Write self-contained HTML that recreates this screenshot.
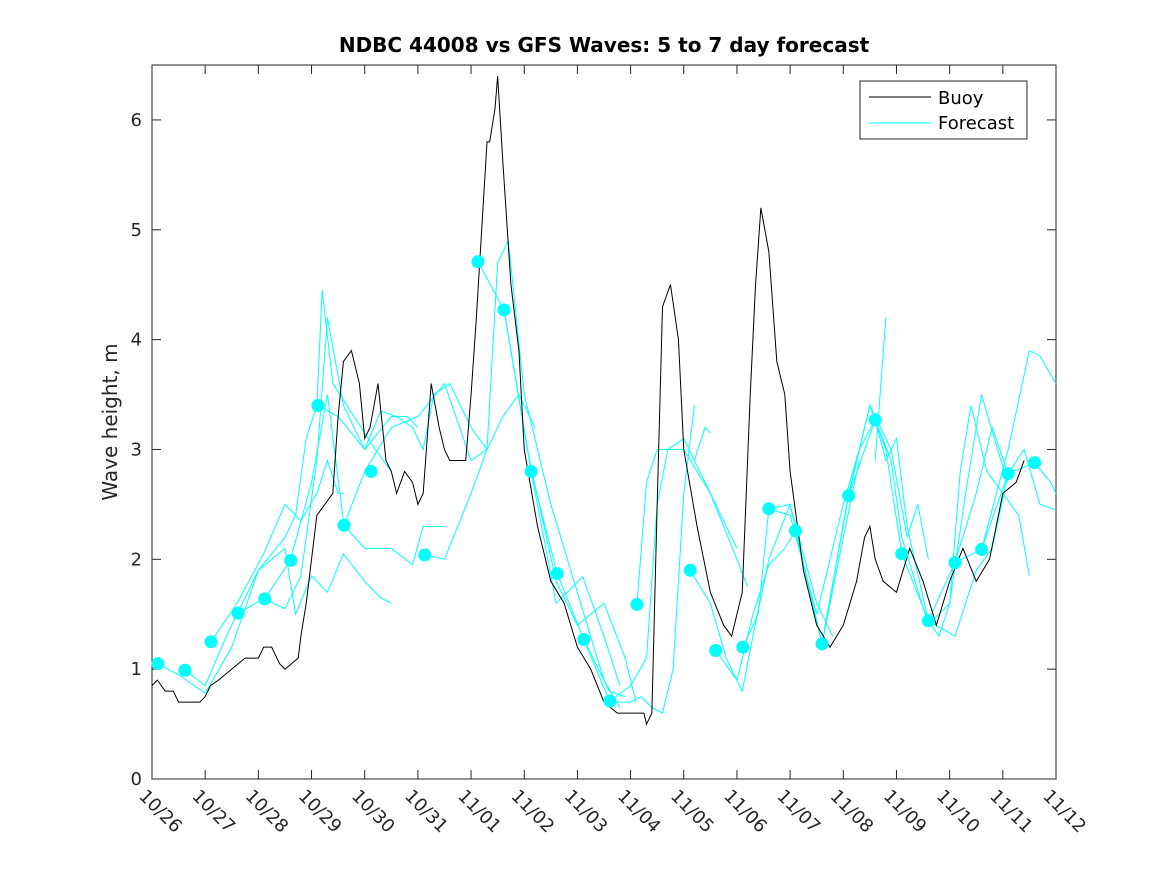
<!DOCTYPE html>
<html><head><meta charset="utf-8"><style>
body{margin:0;background:#fff}
svg{display:block;font-family:"DejaVu Sans","Liberation Sans",sans-serif}
</style></head><body>
<svg id="chart" width="1167" height="875">
<g id="g"></g>
</svg>
<script>
const xTickLabels=["10/26","10/27","10/28","10/29","10/30","10/31","11/01","11/02","11/03","11/04","11/05","11/06","11/07","11/08","11/09","11/10","11/11","11/12"];
const yTicks=[0,1,2,3,4,5,6];
const buoyT=[0,0.1,0.25,0.4,0.5,0.75,0.9,1.0,1.1,1.25,1.5,1.75,2.0,2.1,2.25,2.4,2.5,2.75,2.8,2.9,3.0,3.1,3.25,3.4,3.5,3.6,3.75,3.9,4.0,4.1,4.25,4.4,4.5,4.6,4.75,4.9,5.0,5.1,5.25,5.4,5.5,5.6,5.75,5.9,6.0,6.1,6.2,6.3,6.35,6.45,6.5,6.6,6.75,6.9,7.0,7.25,7.5,7.75,8.0,8.25,8.5,8.75,9.0,9.25,9.3,9.4,9.5,9.6,9.75,9.9,10.0,10.25,10.5,10.75,10.9,11.0,11.1,11.25,11.35,11.45,11.6,11.75,11.9,12.0,12.25,12.5,12.75,13.0,13.25,13.4,13.5,13.6,13.75,14.0,14.25,14.5,14.75,15.0,15.25,15.5,15.75,16.0,16.25,16.4];
const buoyV=[0.85,0.9,0.8,0.8,0.7,0.7,0.7,0.75,0.85,0.9,1.0,1.1,1.1,1.2,1.2,1.05,1.0,1.1,1.3,1.6,2.0,2.4,2.5,2.6,3.3,3.8,3.9,3.6,3.1,3.2,3.6,2.9,2.8,2.6,2.8,2.7,2.5,2.6,3.6,3.2,3.0,2.9,2.9,2.9,3.5,4.2,5.0,5.8,5.8,6.1,6.4,5.6,4.5,3.9,3.0,2.3,1.8,1.6,1.2,1.0,0.7,0.6,0.6,0.6,0.5,0.6,2.5,4.3,4.5,4.0,3.0,2.3,1.7,1.4,1.3,1.5,1.7,3.5,4.5,5.2,4.8,3.8,3.5,2.8,1.9,1.4,1.2,1.4,1.8,2.2,2.3,2.0,1.8,1.7,2.1,1.8,1.4,1.8,2.1,1.8,2.0,2.6,2.7,2.9];
const fcLines=[
[[0.11,1.05],[0.5,0.95],[1.0,0.78],[1.5,1.2],[2.0,1.9],[2.5,2.2],[2.7,2.4],[2.9,3.1],[3.1,3.4],[3.2,4.45],[3.4,3.6],[3.8,3.3],[4.2,3.0],[4.5,2.8]],
[[0.62,0.99],[1.0,0.85],[1.4,1.3],[2.0,1.9],[2.5,2.1],[2.7,1.5],[3.0,1.85],[3.3,1.7],[3.6,2.05],[4.0,1.8],[4.3,1.65],[4.5,1.6]],
[[1.11,1.25],[1.6,1.6],[2.1,2.05],[2.5,2.5],[2.8,2.35],[3.1,2.6],[3.3,2.9],[3.5,2.6],[3.6,2.6]],
[[1.62,1.51],[2.1,1.64],[2.5,1.55],[2.8,1.85],[3.1,2.9],[3.3,4.2],[3.6,3.4],[4.0,3.0],[4.5,3.3],[4.8,3.3],[5.0,3.2]],
[[2.12,1.64],[2.6,1.99],[3.0,2.7],[3.3,3.5],[3.61,2.31],[4.0,2.1],[4.5,2.1],[4.9,1.95],[5.1,2.3],[5.5,2.3]],
[[3.12,3.4],[3.5,3.3],[4.0,3.0],[4.3,3.35],[4.6,3.3],[4.9,3.2],[5.1,3.0],[5.3,3.5],[5.6,3.6],[6.0,3.2],[6.3,3.0]],
[[3.61,2.31],[4.0,2.8],[4.5,3.2],[5.0,3.3],[5.5,3.6],[6.0,2.9],[6.3,3.0],[6.6,3.3],[6.9,3.5],[7.2,3.2]],
[[5.13,2.04],[5.5,2.0],[6.0,2.6],[6.3,3.0],[6.5,4.7],[6.7,4.9],[7.0,3.5],[7.5,2.5],[8.0,1.7],[8.5,0.9],[8.8,0.65]],
[[6.13,4.71],[6.62,4.27],[7.13,2.8],[7.62,1.87],[8.12,1.27],[8.6,0.8],[8.9,0.75]],
[[6.62,4.27],[7.1,2.9],[7.6,1.8],[8.0,1.4],[8.5,1.6],[8.9,1.1],[9.1,0.7]],
[[7.13,2.8],[7.6,1.6],[8.1,1.84],[8.5,1.3],[8.8,0.85]],
[[8.12,1.27],[8.61,0.7],[9.0,0.7],[9.2,0.75],[9.4,0.65],[9.6,0.6],[9.8,1.0],[10.0,2.6],[10.2,3.4]],
[[8.61,0.71],[9.0,0.85],[9.3,1.1],[9.5,2.5],[9.7,3.0],[10.0,3.1],[10.5,2.6],[11.0,2.1]],
[[9.12,1.59],[9.3,2.7],[9.5,3.0],[10.0,3.0],[10.5,2.6],[11.0,2.0],[11.2,1.75]],
[[10.2,2.9],[10.4,3.2],[10.5,3.15]],
[[10.12,1.9],[10.5,1.6],[10.8,1.1],[11.1,0.8],[11.3,1.3],[11.6,2.0],[12.0,2.5],[12.5,1.6],[12.8,1.3]],
[[10.6,1.17],[11.0,0.9],[11.3,1.5],[11.6,1.95],[11.9,2.1],[12.1,2.26],[12.6,1.23],[13.0,2.2],[13.3,2.9]],
[[11.11,1.2],[11.4,1.5],[11.6,2.46],[12.0,2.4],[12.5,1.5],[13.0,2.5],[13.3,3.0],[13.6,3.27],[13.8,3.0]],
[[11.6,2.46],[12.0,2.5],[12.6,1.23],[13.1,2.58],[13.5,3.4],[13.9,3.0],[14.2,2.2],[14.4,2.5],[14.6,2.0]],
[[13.6,2.9],[13.8,4.2]],
[[12.6,1.23],[13.1,2.6],[13.5,3.4],[13.8,3.0],[14.1,2.05],[14.6,1.44],[14.8,1.3],[15.0,1.6],[15.2,2.8],[15.4,3.4],[15.7,2.8],[16.0,2.6],[16.3,2.4],[16.5,1.85]],
[[13.1,2.58],[13.6,3.27],[13.9,2.9],[14.1,2.2],[14.6,1.4],[15.0,1.6],[15.3,2.6],[15.6,3.5],[15.9,3.0],[16.1,2.7]],
[[13.6,3.27],[13.8,2.9],[14.0,3.1],[14.2,2.3],[14.6,1.44],[15.1,1.97],[15.5,2.6],[15.8,3.2],[16.1,2.78]],
[[14.6,1.44],[15.1,1.3],[15.5,1.9],[15.8,2.1],[16.1,2.78],[16.6,2.88],[16.9,2.7],[17.0,2.6]],
[[15.1,1.97],[15.6,2.09],[16.1,3.0],[16.5,3.9],[16.7,3.85],[17.0,3.6]],
[[15.6,2.09],[16.1,2.78],[16.4,3.0],[16.7,2.5],[17.0,2.45]]
];
const dotT=[0.11,0.62,1.11,1.62,2.12,2.61,3.12,3.61,4.12,5.13,6.13,6.62,7.13,7.62,8.12,8.61,9.12,10.12,10.6,11.11,11.6,12.1,12.6,13.1,13.6,14.1,14.6,15.1,15.6,16.1,16.6];
const dotV=[1.05,0.99,1.25,1.51,1.64,1.99,3.4,2.31,2.8,2.04,4.71,4.27,2.8,1.87,1.27,0.71,1.59,1.9,1.17,1.2,2.46,2.26,1.23,2.58,3.27,2.05,1.44,1.97,2.09,2.78,2.88];

const L=152,R=1056,T=65,B=779;
const xs=t=>L+(R-L)*t/17;
const ys=v=>B-(B-T)*v/6.5;
const NS="http://www.w3.org/2000/svg";
const g=document.getElementById('g');
function mk(tag,attrs,parent){const e=document.createElementNS(NS,tag);for(const k in attrs)e.setAttribute(k,attrs[k]);(parent||g).appendChild(e);return e;}

let e=mk('rect',{x:L,y:T,width:R-L,height:B-T,fill:'#fff',stroke:'#262626','stroke-width':1});



xTickLabels.forEach((lab,i)=>{
  const x=xs(i);
  let t1=mk('line',{x1:x,y1:B,x2:x,y2:B-9,stroke:'#262626'});
  
  
  let t2=mk('line',{x1:x,y1:T,x2:x,y2:T+9,stroke:'#262626'});
  
  
  let tx=mk('text',{x:x-14,y:B+18,'font-size':18,fill:'#262626',transform:`rotate(45 ${x-14} ${B+18})`});
  tx.textContent=lab;
  
  
});
yTicks.forEach(v=>{
  const y=ys(v);
  let t1=mk('line',{x1:L,y1:y,x2:L+9,y2:y,stroke:'#262626'});
  
  
  let t2=mk('line',{x1:R,y1:y,x2:R-9,y2:y,stroke:'#262626'});
  
  
  let tx=mk('text',{x:L-10,y:y+6,'font-size':18,fill:'#262626','text-anchor':'end'});
  tx.textContent=v;
  
  
});

fcLines.forEach(seg=>{
  let p=mk('polyline',{points:seg.map(d=>xs(d[0])+','+ys(d[1])).join(' '),fill:'none',stroke:'#00ffff','stroke-width':1});
  
  
});
let bp=mk('polyline',{points:buoyT.map((t,i)=>xs(t)+','+ys(buoyV[i])).join(' '),fill:'none',stroke:'#000','stroke-width':1});


dotT.forEach((t,i)=>{
  let c=mk('circle',{cx:xs(t),cy:ys(dotV[i]),r:6.5,fill:'#00ffff'});
  
  
});

let ti=mk('text',{x:(L+R)/2,y:52,'font-size':20,'font-weight':'bold','text-anchor':'middle',fill:'#000'});
ti.textContent='NDBC 44008 vs GFS Waves: 5 to 7 day forecast';


let yl=mk('text',{x:117,y:422,'font-size':20,'text-anchor':'middle',fill:'#262626',transform:'rotate(-90 117 422)'});
yl.textContent='Wave height, m';



let lg=mk('g',{});


mk('rect',{x:860,y:81,width:167,height:58,fill:'#fff',stroke:'#262626'},lg);
mk('line',{x1:869,y1:97,x2:931,y2:97,stroke:'#000'},lg);
mk('line',{x1:869,y1:123,x2:931,y2:123,stroke:'#00ffff'},lg);
let l1=mk('text',{x:938,y:104,'font-size':18,fill:'#000'},lg);l1.textContent='Buoy';


let l2=mk('text',{x:938,y:129,'font-size':18,fill:'#000'},lg);l2.textContent='Forecast';


</script>
</body></html>
